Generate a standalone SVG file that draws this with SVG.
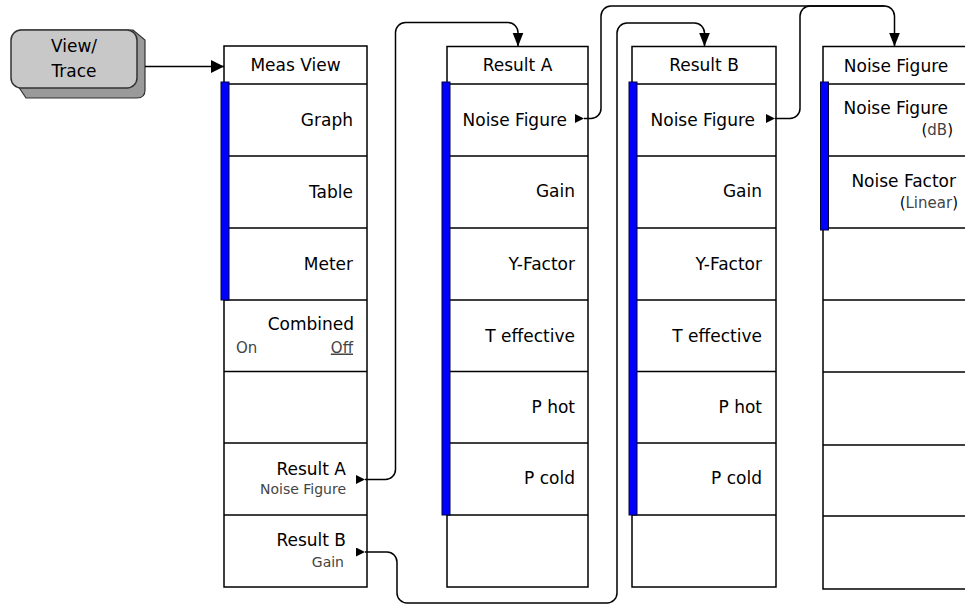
<svg xmlns="http://www.w3.org/2000/svg" width="965" height="606" viewBox="0 0 965 606">
<style>
.box{fill:#fff;stroke:#000;stroke-width:1.5}
.ln{stroke:#000;stroke-width:1.5}
.bar{fill:#0000ff;stroke:#00003a;stroke-width:1}
.t{font-family:"DejaVu Sans","Liberation Sans",sans-serif;font-size:17px;fill:#000}
.s{font-family:"DejaVu Sans","Liberation Sans",sans-serif;font-size:14px;fill:#444}
.o{font-size:15px}
.r{text-anchor:end}
.m{text-anchor:middle}
.con{fill:none;stroke:#000;stroke-width:1.5}
</style>
<defs>
<marker id="st" markerUnits="userSpaceOnUse" markerWidth="10" markerHeight="10" refX="9" refY="4.5" orient="auto"><path d="M0,0 L9,4.5 L0,9 Z" fill="#000"/></marker>
<marker id="en" markerUnits="userSpaceOnUse" markerWidth="15" markerHeight="12" refX="14" refY="5.5" orient="auto"><path d="M0,0 L14,5.5 L0,11 Z" fill="#000"/></marker>
<marker id="enb" markerUnits="userSpaceOnUse" markerWidth="14" markerHeight="14" refX="13" refY="6.5" orient="auto"><path d="M0,0 L13,6.5 L0,13 Z" fill="#000"/></marker>
</defs>

<g id="view-trace">
<path d="M18 86 L26 98 L137 98 Q145 98 145 90 L145 40 L133 30 L20 30 Z" fill="#9a9a9a" stroke="#333" stroke-width="1.2"/>
<rect x="11" y="30" width="126" height="58" rx="10" fill="#c8c8c8" stroke="#333" stroke-width="1.5"/>
<text class="t m" x="74" y="52">View/</text>
<text class="t m" x="74" y="76.5">Trace</text>
</g>

<g id="meas-view">
<rect class="box" x="224" y="46" width="143" height="541"/>
<line class="ln" x1="224" y1="84" x2="367" y2="84"/>
<line class="ln" x1="224" y1="156" x2="367" y2="156"/>
<line class="ln" x1="224" y1="228" x2="367" y2="228"/>
<line class="ln" x1="224" y1="300" x2="367" y2="300"/>
<line class="ln" x1="224" y1="371.5" x2="367" y2="371.5"/>
<line class="ln" x1="224" y1="443" x2="367" y2="443"/>
<line class="ln" x1="224" y1="515" x2="367" y2="515"/>
<rect class="bar" x="221" y="82" width="8" height="218"/>
<text class="t m" x="295.5" y="70.5">Meas View</text>
<text class="t r" x="353" y="126">Graph</text>
<text class="t r" x="353" y="197.5">Table</text>
<text class="t r" x="353" y="269.5">Meter</text>
<text class="t r" x="354" y="329.5">Combined</text>
<text class="s o" x="236" y="352.5">On</text>
<text class="s o r" x="353" y="352.5" text-decoration="underline">Off</text>
<text class="t r" x="346" y="474.5">Result A</text>
<text class="s r" x="346" y="494">Noise Figure</text>
<text class="t r" x="346" y="546">Result B</text>
<text class="s r" x="344" y="566.5">Gain</text>
</g>

<g id="result-a">
<rect class="box" x="447" y="46.5" width="141" height="540.5"/>
<line class="ln" x1="447" y1="84" x2="588" y2="84"/>
<line class="ln" x1="447" y1="156" x2="588" y2="156"/>
<line class="ln" x1="447" y1="228" x2="588" y2="228"/>
<line class="ln" x1="447" y1="300" x2="588" y2="300"/>
<line class="ln" x1="447" y1="371.5" x2="588" y2="371.5"/>
<line class="ln" x1="447" y1="443" x2="588" y2="443"/>
<line class="ln" x1="447" y1="515" x2="588" y2="515"/>
<rect class="bar" x="442" y="82" width="8" height="433"/>
<text class="t m" x="517.5" y="70.5">Result A</text>
<text class="t r" x="567" y="125.5">Noise Figure</text>
<text class="t r" x="575" y="197">Gain</text>
<text class="t r" x="575" y="269.5">Y-Factor</text>
<text class="t r" x="575" y="341.5">T effective</text>
<text class="t r" x="575" y="412.5">P hot</text>
<text class="t r" x="575" y="483.5">P cold</text>
</g>

<g id="result-b">
<rect class="box" x="632" y="46.5" width="144" height="540.5"/>
<line class="ln" x1="632" y1="84" x2="776" y2="84"/>
<line class="ln" x1="632" y1="156" x2="776" y2="156"/>
<line class="ln" x1="632" y1="228" x2="776" y2="228"/>
<line class="ln" x1="632" y1="300" x2="776" y2="300"/>
<line class="ln" x1="632" y1="371.5" x2="776" y2="371.5"/>
<line class="ln" x1="632" y1="443" x2="776" y2="443"/>
<line class="ln" x1="632" y1="515" x2="776" y2="515"/>
<rect class="bar" x="629" y="82" width="8" height="433"/>
<text class="t m" x="704" y="70.5">Result B</text>
<text class="t r" x="755" y="125.5">Noise Figure</text>
<text class="t r" x="762" y="197">Gain</text>
<text class="t r" x="762" y="269.5">Y-Factor</text>
<text class="t r" x="762" y="341.5">T effective</text>
<text class="t r" x="762" y="412.5">P hot</text>
<text class="t r" x="762" y="483.5">P cold</text>
</g>

<g id="noise-figure">
<rect class="box" x="823" y="46.5" width="144" height="542.5"/>
<line class="ln" x1="823" y1="84" x2="967" y2="84"/>
<line class="ln" x1="823" y1="156" x2="967" y2="156"/>
<line class="ln" x1="823" y1="228" x2="967" y2="228"/>
<line class="ln" x1="823" y1="300" x2="967" y2="300"/>
<line class="ln" x1="823" y1="372" x2="967" y2="372"/>
<line class="ln" x1="823" y1="445" x2="967" y2="445"/>
<line class="ln" x1="823" y1="516" x2="967" y2="516"/>
<rect class="bar" x="820.5" y="82" width="8" height="148"/>
<text class="t m" x="896" y="71.5">Noise Figure</text>
<text class="t r" x="948" y="114">Noise Figure</text>
<text class="s o r" x="953" y="135"><tspan fill="#000">(</tspan>dB<tspan fill="#000">)</tspan></text>
<text class="t r" x="956" y="186.5">Noise Factor</text>
<text class="s o r" x="958" y="208"><tspan fill="#000">(</tspan>Linear<tspan fill="#000">)</tspan></text>
</g>

<g id="connectors">
<path class="con" d="M145 66.5 H224" marker-end="url(#enb)"/>
<path class="con" d="M365 479.5 H385.5 A10 10 0 0 0 395.5 469.5 V32.5 A10 10 0 0 1 405.5 22.5 H508 A10 10 0 0 1 518 32.5 V46.5" marker-start="url(#st)" marker-end="url(#en)"/>
<path class="con" d="M365 552 H387 A10 10 0 0 1 397 562 V593 A10 10 0 0 0 407 603 H607 A10 10 0 0 0 617 593 V33 A10 10 0 0 1 627 23 H694.5 A10 10 0 0 1 704.5 33 V46.5" marker-start="url(#st)" marker-end="url(#en)"/>
<path class="con" d="M584 118.5 H591 A10 10 0 0 0 601 108.5 V16 A10 10 0 0 1 611 6 H884.5 A10 10 0 0 1 894.5 16 V46.5" marker-start="url(#st)" marker-end="url(#en)"/>
<path class="con" d="M775 118.5 H790 A10 10 0 0 0 800 108.5 V16 A10 10 0 0 1 810 6 H884.5" marker-start="url(#st)"/>
</g>
</svg>
